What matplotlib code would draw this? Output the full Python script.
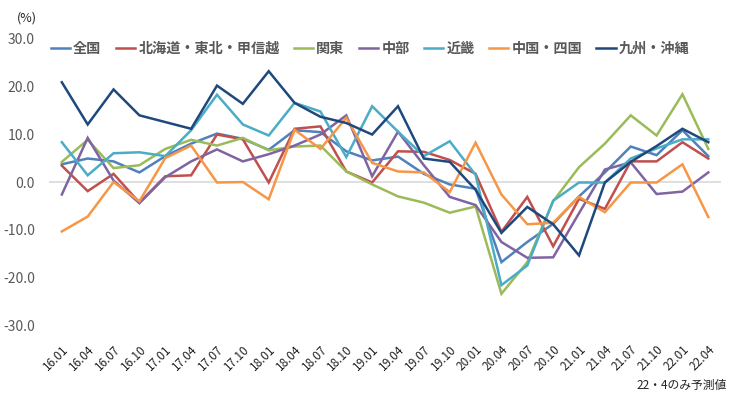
import matplotlib
matplotlib.use("Agg")
import matplotlib.pyplot as plt
import numpy as np

plt.rcParams['font.family'] = ['Noto Sans CJK JP', 'DejaVu Sans']

labels = ["16.01", "16.04", "16.07", "16.10", "17.01", "17.04", "17.07", "17.10",
          "18.01", "18.04", "18.07", "18.10", "19.01", "19.04", "19.07", "19.10",
          "20.01", "20.04", "20.07", "20.10", "21.01", "21.04", "21.07", "21.10",
          "22.01", "22.04"]

zenkoku = [3.7, 4.9, 4.3, 2.0, 5.4, 8.0, 10.1, 9.0, 6.7, 10.8, 10.4, 6.4, 4.5, 5.3,
           1.7, -0.5, -1.4, -16.7, -12.5, -8.7, -3.0, 2.0, 7.4, 5.6, 10.8, 5.4]
hokkaido = [3.4, -1.9, 1.7, -4.3, 1.2, 1.4, 9.9, 8.9, -0.1, 11.1, 11.6, 2.2, -0.1, 6.4,
            6.3, 4.6, 1.7, -10.4, -3.1, -13.4, -3.5, -5.6, 4.3, 4.3, 8.3, 4.9]
kanto = [4.2, 8.8, 2.9, 3.5, 6.9, 8.8, 7.6, 9.2, 6.6, 7.4, 7.6, 2.2, -0.5, -3.0,
         -4.3, -6.4, -5.1, -23.3, -16.7, -4.0, 3.1, 8.0, 13.9, 9.7, 18.3, 6.9]
chubu = [-2.6, 9.2, 0.3, -4.4, 1.0, 4.3, 6.8, 4.3, 5.8, 7.6, 9.9, 13.9, 1.2, 10.5,
         3.5, -3.1, -4.8, -12.5, -15.8, -15.7, -6.5, 2.6, 4.1, -2.5, -2.0, 2.0]
kinki = [8.3, 1.4, 6.0, 6.2, 5.4, 10.8, 18.2, 12.0, 9.7, 16.5, 14.7, 5.2, 15.8, 10.5,
         5.4, 8.5, 1.5, -21.5, -17.4, -3.9, -0.1, -0.1, 4.9, 7.0, 8.9, 8.9]
chugoku = [-10.3, -7.2, 0.0, -4.0, 5.0, 7.6, -0.1, 0.0, -3.6, 10.9, 6.9, 13.4, 4.0, 2.2,
           2.0, -2.1, 8.2, -2.6, -8.8, -8.5, -3.1, -6.3, -0.1, -0.1, 3.7, -7.3]
kyushu = [20.8, 12.0, 19.3, 13.9, 12.5, 11.1, 20.1, 16.3, 23.1, 16.5, 13.6, 12.3, 9.9, 15.8,
          4.9, 4.2, -1.6, -10.6, -5.2, -8.8, -15.3, -0.1, 4.2, 7.5, 11.1, 8.3]

series_names = ["全国", "北海道・東北・甲信越", "関東", "中部", "近畿", "中国・四国", "九州・沖縄"]
series_vals = [zenkoku, hokkaido, kanto, chubu, kinki, chugoku, kyushu]
colors = ["#4F81BD", "#C0504D", "#9BBB59", "#8064A2", "#4BACC6", "#F79646", "#1F497D"]

fig = plt.figure(figsize=(7.30, 3.97), dpi=100)
ax = fig.add_axes([0.067, 0.179, 0.921, 0.725])

x = np.arange(len(labels))
for name, vals, c in zip(series_names, series_vals, colors):
    ax.plot(x, vals, color=c, lw=1.8, label=name, solid_joinstyle='miter')

ax.set_xlim(-0.5, len(labels) - 0.5)
ax.set_ylim(-30, 30)
ax.set_yticks(np.arange(-30, 31, 10))
ax.set_yticklabels([f"{v:.1f}" for v in np.arange(-30, 31, 10)], color="#595959", fontsize=10)
ax.axhline(0, color="#D9D9D9", lw=1.2, zorder=0)

ax.set_xticks(x)
ax.set_xticklabels(labels, rotation=45, ha='right', va='top', rotation_mode='anchor',
                   fontsize=8.5, color="#222222")
ax.tick_params(axis='both', length=0)
ax.tick_params(axis='x', pad=12)
ax.tick_params(axis='y', pad=10)
for s in ax.spines.values():
    s.set_visible(False)

fig.text(0.023, 0.955, "(%)", fontsize=9, color="#222222", va='center', ha='left')

leg = fig.legend(loc='center', bbox_to_anchor=(0.507, 0.877), ncol=7, frameon=False,
                 fontsize=10.2, handlelength=1.35, columnspacing=1.0, handletextpad=0.25,
                 labelcolor="#595959")
for t in leg.get_texts():
    t.set_fontweight('bold')

fig.text(0.995, 0.03, "22・4のみ予測値", fontsize=8.5, color="#222222", ha='right', va='center')

fig.savefig("out.png", dpi=100)
